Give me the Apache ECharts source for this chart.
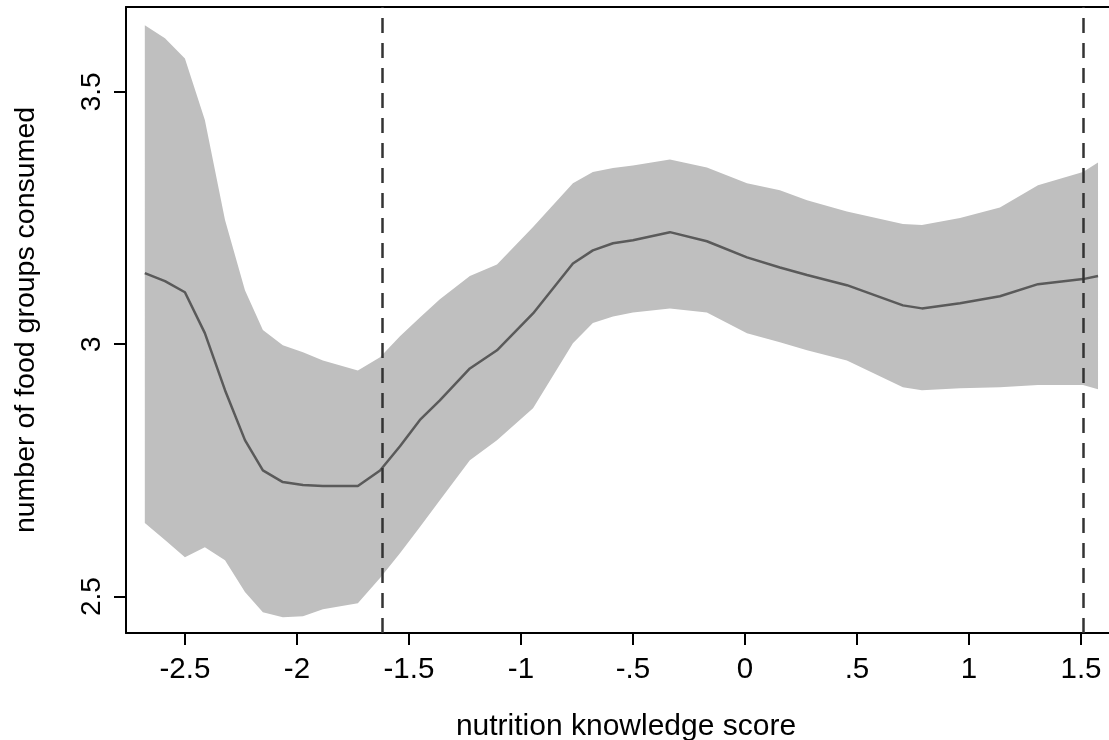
<!DOCTYPE html>
<html>
<head>
<meta charset="utf-8">
<script src="https://cdn.jsdelivr.net/npm/echarts@6/dist/echarts.min.js"></script>
<style>
  html, body { margin: 0; padding: 0; background: #fff; }
  #chart { width: 1109px; height: 740px; }
</style>
</head>
<body>
<div id="chart"></div>
<script>
// nutrition knowledge score (x) and smoothed estimate with 95% band
var xs = [-2.679, -2.589, -2.5, -2.411, -2.321, -2.232, -2.152, -2.063, -1.973, -1.884,
  -1.728, -1.629, -1.540, -1.451, -1.362, -1.228, -1.107, -0.946, -0.768, -0.679,
  -0.589, -0.5, -0.335, -0.170, 0.009, 0.156, 0.277, 0.455, 0.705, 0.790,
  0.960, 1.138, 1.308, 1.509, 1.576]
var mean = [3.141, 3.125, 3.103, 3.022, 2.909, 2.810, 2.750, 2.727, 2.721, 2.719,
  2.719, 2.750, 2.798, 2.850, 2.889, 2.952, 2.988, 3.061, 3.160, 3.186,
  3.200, 3.206, 3.222, 3.204, 3.172, 3.152, 3.137, 3.117, 3.077, 3.071,
  3.081, 3.095, 3.119, 3.129, 3.135]
var upper = [3.632, 3.606, 3.566, 3.444, 3.246, 3.107, 3.028, 2.998, 2.984, 2.968,
  2.948, 2.974, 3.016, 3.053, 3.089, 3.135, 3.158, 3.232, 3.319, 3.341,
  3.349, 3.354, 3.366, 3.350, 3.319, 3.305, 3.285, 3.263, 3.238, 3.236,
  3.250, 3.271, 3.315, 3.341, 3.360]
var lower = [2.646, 2.612, 2.578, 2.598, 2.572, 2.509, 2.469, 2.459, 2.461, 2.475,
  2.487, 2.537, 2.586, 2.638, 2.691, 2.770, 2.810, 2.873, 3.002, 3.042,
  3.055, 3.063, 3.071, 3.063, 3.022, 3.004, 2.988, 2.968, 2.915, 2.909,
  2.913, 2.915, 2.919, 2.919, 2.911]
var cutoffs = [-1.616, 1.509]
var xTicks = [-2.5, -2, -1.5, -1, -0.5, 0, 0.5, 1, 1.5]
var yTicks = [2.5, 3, 3.5]

var font = 'Liberation Sans, Arial, sans-serif'

function fmt(v) {
  // Stata style: drop leading zero
  var s = String(v)
  return s.replace(/^(-?)0\./, '$1.')
}

var chart = echarts.init(document.getElementById('chart'))
chart.setOption({
  animation: false,
  grid: { left: 126, top: 7, right: 0, bottom: 107, containLabel: false, outerBoundsMode: 'none' },
  xAxis: [{
    type: 'value',
    min: -2.763,
    max: 1.625,
    name: 'nutrition knowledge score',
    nameLocation: 'middle',
    nameGap: 79,
    nameTextStyle: { fontFamily: font, fontSize: 30, color: '#000', padding: [0, 0, 0, 17] },
    axisLine: { show: true, onZero: false, lineStyle: { color: '#000', width: 2 } },
    axisTick: { show: true, length: 12, customValues: xTicks, lineStyle: { color: '#000', width: 2 } },
    axisLabel: { customValues: xTicks, margin: 22, fontFamily: font, fontSize: 29.5, color: '#000', formatter: fmt },
    splitLine: { show: false }
  }, {
    type: 'value',
    position: 'top',
    min: -2.763,
    max: 1.625,
    axisLine: { show: true, onZero: false, lineStyle: { color: '#000', width: 2 } },
    axisTick: { show: false },
    axisLabel: { show: false },
    splitLine: { show: false }
  }],
  yAxis: {
    type: 'value',
    min: 2.428,
    max: 3.668,
    name: 'number of food groups consumed',
    nameLocation: 'middle',
    nameGap: 85,
    nameRotate: 90,
    nameTextStyle: { fontFamily: font, fontSize: 28.5, color: '#000' },
    axisLine: { show: true, onZero: false, lineStyle: { color: '#000', width: 2 } },
    axisTick: { show: true, length: 12, customValues: yTicks, lineStyle: { color: '#000', width: 2 } },
    axisLabel: { customValues: yTicks, rotate: 90, margin: 20, fontFamily: font, fontSize: 28, color: '#000', formatter: fmt },
    splitLine: { show: false }
  },
  series: [{
    // reference lines, drawn below the band
    type: 'line',
    z: 1,
    symbol: 'none',
    lineStyle: { opacity: 0 },
    data: [],
    markLine: {
      silent: true,
      symbol: 'none',
      label: { show: false },
      lineStyle: { color: '#333', width: 2.5, type: [15, 10] },
      data: cutoffs.map(function (c) { return { xAxis: c } })
    }
  }, {
    name: 'band',
    type: 'custom',
    z: 2,
    data: [0],
    renderItem: function (params, api) {
      var pts = []
      for (var i = 0; i < xs.length; i++) pts.push(api.coord([xs[i], upper[i]]))
      for (var j = xs.length - 1; j >= 0; j--) pts.push(api.coord([xs[j], lower[j]]))
      return {
        type: 'polygon',
        shape: { points: pts },
        style: { fill: '#bfbfbf', stroke: null }
      }
    }
  }, {
    name: 'mean',
    type: 'line',
    z: 3,
    symbol: 'none',
    lineStyle: { color: '#5a5a5a', width: 2.5 },
    data: xs.map(function (x, i) { return [x, mean[i]] })
  }]
})
</script>
</body>
</html>
